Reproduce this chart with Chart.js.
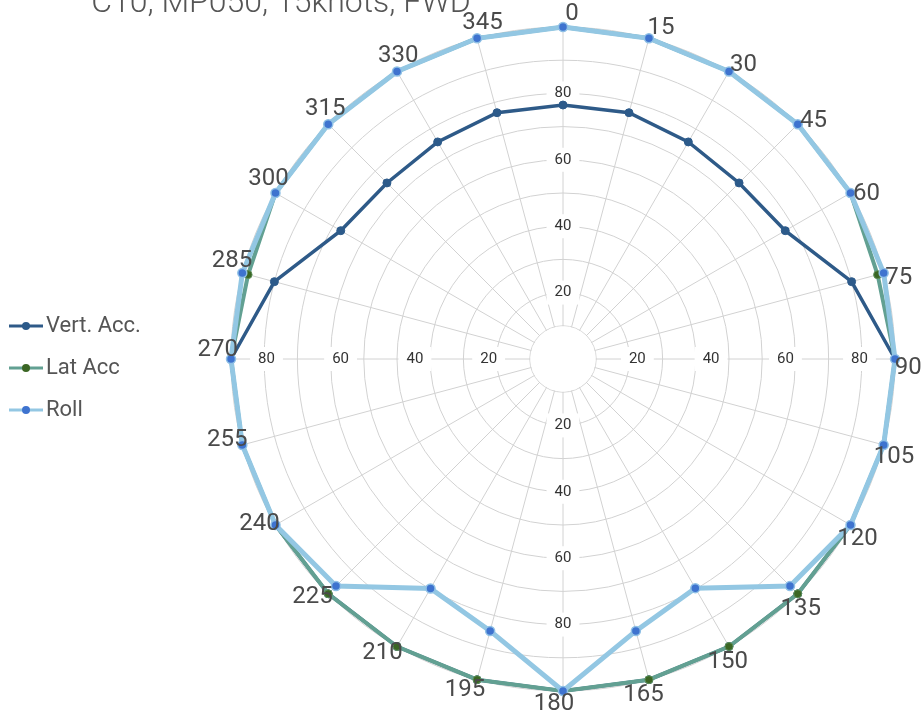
<!DOCTYPE html>
<html>
<head>
<meta charset="utf-8">
<title>C10, MP050, 15knots, FWD</title>
<script src="https://cdn.jsdelivr.net/npm/chart.js@4.4.1/dist/chart.umd.min.js"></script>
<style>
  html, body { margin: 0; padding: 0; background: #fff; overflow: hidden; }
  #frame { width: 921px; height: 719px; overflow: hidden; }
  /* a little wider than the window so the dial sits where the original has it */
  #wrap { width: 976px; height: 719px; position: relative; }
</style>
</head>
<body>
<div id="frame"><div id="wrap"><canvas id="polar"></canvas></div></div>
<script>
const chartTitle = 'C10, MP050, 15knots, FWD';
const headings = ['0', '15', '30', '45', '60', '75', '90', '105', '120', '135', '150', '165',
                  '180', '195', '210', '225', '240', '255', '270', '285', '300', '315', '330', '345'];
const vertAcc = [76.5, 76.8, 75.5, 75, 77.3, 90, 100, 100, 100, 100, 100, 100,
                 100, 100, 100, 100, 100, 100, 100, 90, 77.3, 75, 75.5, 76.8];
const latAcc = [100, 100, 100, 100, 100, 98.1, 100, 100, 100, 100, 100, 100,
                100, 100, 100, 100, 100, 100, 100, 98.2, 100, 100, 100, 100];
const roll = [100, 100, 100, 100, 100, 100, 100, 100, 100, 96.7, 79.7, 84.8,
              100, 84.8, 79.8, 96.7, 100, 100, 100, 100, 100, 100, 100, 100];
const tickValues = [20, 40, 60, 80];
// the labels on the horizontal axis sit a bit further out than on the vertical one
const sideTickRadii = [22.4, 44.6, 67, 89.3];

// small line + dot picture for the legend
function legendMarker(ds) {
  const c = document.createElement('canvas');
  c.width = 37; c.height = 12;
  const g = c.getContext('2d');
  g.strokeStyle = ds.borderColor;
  g.lineWidth = 3;
  g.beginPath(); g.moveTo(0, 6); g.lineTo(34, 6); g.stroke();
  g.fillStyle = ds.pointBackgroundColor;
  g.beginPath(); g.arc(17, 6, 4, 0, Math.PI * 2); g.fill();
  return c;
}

const ringLabels = {
  id: 'ringLabels',
  beforeDatasetsDraw(chart) {
    const r = chart.scales.r;
    const ctx = chart.ctx;
    const cx = r.xCenter, cy = r.yCenter;
    const hole = r.getDistanceFromCenterForValue(10);
    ctx.save();
    ctx.fillStyle = '#fff';
    ctx.beginPath(); ctx.arc(cx, cy, hole - 0.5, 0, Math.PI * 2); ctx.fill();
    ctx.font = '15px Roboto';
    ctx.textAlign = 'center';
    ctx.textBaseline = 'middle';
    const put = (txt, x, y) => {
      const w = ctx.measureText(txt).width;
      ctx.fillStyle = '#fff';
      ctx.fillRect(x - w / 2 - 8, y - 12, w + 16, 24);
      ctx.fillStyle = '#333';
      ctx.fillText(txt, x, y);
    };
    tickValues.forEach((v, i) => {
      const dv = r.getDistanceFromCenterForValue(v);
      const dh = r.getDistanceFromCenterForValue(sideTickRadii[i]);
      put(String(v), cx, cy - dv);
      put(String(v), cx, cy + dv);
      put(String(v), cx + dh, cy);
      put(String(v), cx - dh, cy);
    });
    ctx.restore();
  },
  // heading labels: centred just outside the rim, turned a touch clockwise
  afterDatasetsDraw(chart) {
    const r = chart.scales.r;
    const ctx = chart.ctx;
    const dist = r.getDistanceFromCenterForValue(104);
    const skew = 1.5 * Math.PI / 180;
    ctx.save();
    ctx.font = '24px Roboto';
    ctx.fillStyle = '#4a4a4a';
    ctx.textAlign = 'center';
    ctx.textBaseline = 'middle';
    headings.forEach((h, i) => {
      const p = r.getPointPosition(i, dist, skew);
      ctx.fillText(h, p.x, p.y);
    });
    ctx.restore();
  }
};

// title is cut by the top edge in the original
const cutTitle = {
  id: 'cutTitle',
  afterDraw(chart) {
    const ctx = chart.ctx;
    ctx.save();
    ctx.font = '300 32px Roboto';
    ctx.fillStyle = '#555';
    ctx.textAlign = 'center';
    ctx.textBaseline = 'alphabetic';
    ctx.fillText(chartTitle, 281, 12);
    ctx.restore();
  }
};

new Chart(document.getElementById('polar'), {
  type: 'radar',
  data: {
    labels: headings,
    datasets: [
      {
        label: 'Vert. Acc.',
        data: vertAcc,
        order: 2,
        borderColor: '#2e5a88',
        borderWidth: 3.5,
        pointBackgroundColor: '#2c5a8a',
        pointBorderColor: '#2c5a8a',
        pointRadius: 4,
        pointBorderWidth: 1,
        fill: false
      },
      {
        label: 'Lat Acc',
        data: latAcc,
        order: 1,
        borderColor: '#62a092',
        borderWidth: 4,
        pointBackgroundColor: '#3b6624',
        pointBorderColor: '#5d8f5a',
        pointRadius: 4,
        pointBorderWidth: 1,
        fill: false
      },
      {
        label: 'Roll',
        data: roll,
        order: 0,
        borderColor: '#93c7e3',
        borderWidth: 5,
        pointBackgroundColor: '#3e73cf',
        pointBorderColor: '#8fc0e6',
        pointRadius: 4.5,
        pointBorderWidth: 1.5,
        fill: false
      }
    ]
  },
  options: {
    responsive: true,
    maintainAspectRatio: false,
    animation: false,
    layout: { padding: { top: 27, bottom: 28 } },
    elements: { line: { tension: 0 } },
    scales: {
      r: {
        min: 0,
        max: 100,
        ticks: { display: false, stepSize: 10 },
        grid: { color: '#d2d2d2', lineWidth: 1, circular: true },
        angleLines: { color: '#d2d2d2', lineWidth: 1 },
        pointLabels: { display: false }
      }
    },
    plugins: {
      title: { display: false },
      tooltip: { enabled: false },
      legend: {
        position: 'left',
        // empty title only nudges the items down a bit
        title: { display: true, text: ' ', font: { size: 10 }, padding: { top: 3, bottom: 3 } },
        labels: {
          usePointStyle: true,
          pointStyleWidth: 15,
          padding: 20,
          color: '#555',
          font: { family: 'Roboto', size: 22 },
          generateLabels(chart) {
            return chart.data.datasets.map((ds, i) => ({
              text: ds.label,
              datasetIndex: i,
              pointStyle: legendMarker(ds),
              fontColor: '#555',
              hidden: !chart.isDatasetVisible(i),
              lineWidth: 0,
              strokeStyle: 'rgba(0,0,0,0)',
              fillStyle: 'rgba(0,0,0,0)'
            }));
          }
        }
      }
    }
  },
  plugins: [ringLabels, cutTitle]
});
</script>
</body>
</html>
